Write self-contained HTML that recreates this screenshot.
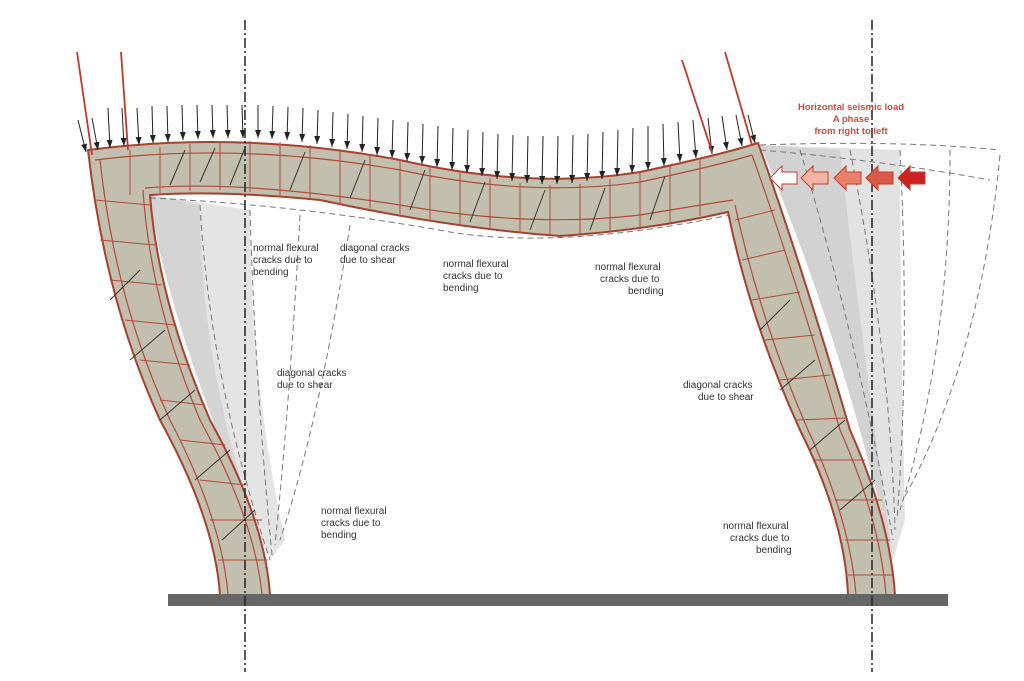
<!DOCTYPE html>
<html><head><meta charset="utf-8"><style>
html,body{margin:0;padding:0;background:#fff;width:1024px;height:681px;overflow:hidden}
svg{display:block}
text{font-family:"Liberation Sans",sans-serif;font-size:10px;fill:#333}
</style></head><body>
<svg width="1024" height="681" viewBox="0 0 1024 681" xmlns="http://www.w3.org/2000/svg">
<defs>
<marker id="ah" markerWidth="8" markerHeight="6" refX="8" refY="3" orient="auto" markerUnits="userSpaceOnUse">
<path d="M0,0 L8,3 L0,6 Z" fill="#222"/></marker>
</defs>
<!-- shaded regions -->
<path d="M150,195 Q165,320 270,560 L285,540 Q250,380 250,210 Z" fill="#e4e4e4"/>
<path d="M150,195 Q160,300 268,560 Q200,380 200,205 Z" fill="#d4d4d4"/>
<path d="M760,145 Q840,330 893,560 L905,520 Q900,300 900,150 Z" fill="#e2e2e2"/>
<path d="M760,145 Q840,330 893,560 Q860,330 840,150 Z" fill="#d2d2d2"/>
<!-- dashed ghost lines -->
<g fill="none" stroke="#777" stroke-width="1" stroke-dasharray="6,4">
<path d="M150,198 Q300,205 450,232 Q560,250 730,215"/>
<path d="M200,205 Q210,380 270,560"/>
<path d="M250,210 Q255,380 272,555"/>
<path d="M300,215 Q290,400 275,545"/>
<path d="M350,225 Q320,420 280,540"/>
<path d="M760,145 Q900,140 1000,150"/>
<path d="M760,150 Q880,160 990,180"/>
<path d="M800,150 Q860,350 893,540"/>
<path d="M850,150 Q890,350 895,530"/>
<path d="M900,150 Q910,350 897,520"/>
<path d="M950,150 Q950,350 900,510"/>
<path d="M1000,155 Q980,360 903,500"/>
</g>
<!-- frame -->
<path d="M88,150 Q240,130 400,160 Q530,190 640,172 Q720,155 758,143 Q800,260 850,430 Q890,520 895,595 L848,595 Q845,520 800,430 Q750,320 728,212 Q650,230 560,236 Q450,228 320,200 Q220,190 150,195 Q158,300 210,420 Q265,520 270,595 L220,595 Q215,520 160,420 Q105,300 88,150 Z" fill="#c2bfae" stroke="#a8402e" stroke-width="2"/>
<g stroke="#b24a38" stroke-width="1.2" fill="none">
<path d="M95,160 Q240,142 400,170 Q530,198 640,182 Q720,165 752,155"/>
<path d="M145,188 Q240,180 400,205 Q530,228 640,215 Q700,205 733,200"/>
<path d="M100,160 Q115,300 170,420 Q222,520 228,595"/>
<path d="M143,190 Q150,300 200,420 Q255,520 262,595"/>
<path d="M752,155 Q790,260 840,430 Q880,520 886,595"/>
<path d="M735,205 Q760,320 808,430 Q850,520 856,595"/>
</g>
<g stroke="#b24a38" stroke-width="1">
<line x1="130" y1="150" x2="130" y2="195"/><line x1="160" y1="147" x2="160" y2="193"/><line x1="190" y1="144" x2="190" y2="191"/><line x1="220" y1="142" x2="220" y2="190"/><line x1="250" y1="141" x2="250" y2="192"/><line x1="280" y1="142" x2="280" y2="195"/><line x1="310" y1="145" x2="310" y2="198"/><line x1="340" y1="149" x2="340" y2="203"/><line x1="370" y1="154" x2="370" y2="208"/><line x1="400" y1="160" x2="400" y2="214"/><line x1="430" y1="166" x2="430" y2="221"/><line x1="460" y1="172" x2="460" y2="226"/><line x1="490" y1="178" x2="490" y2="230"/><line x1="520" y1="183" x2="520" y2="233"/><line x1="550" y1="185" x2="550" y2="235"/><line x1="580" y1="184" x2="580" y2="235"/><line x1="610" y1="179" x2="610" y2="233"/><line x1="640" y1="172" x2="640" y2="229"/><line x1="670" y1="166" x2="670" y2="222"/><line x1="700" y1="159" x2="700" y2="216"/>
<line x1="95" y1="200" x2="150" y2="205"/><line x1="100" y1="240" x2="155" y2="245"/><line x1="110" y1="280" x2="162" y2="285"/><line x1="125" y1="320" x2="175" y2="325"/><line x1="140" y1="360" x2="190" y2="365"/><line x1="160" y1="400" x2="205" y2="405"/><line x1="180" y1="440" x2="225" y2="445"/><line x1="200" y1="480" x2="245" y2="485"/><line x1="210" y1="520" x2="262" y2="520"/><line x1="218" y1="560" x2="268" y2="560"/>
<line x1="735" y1="220" x2="775" y2="210"/><line x1="742" y1="260" x2="785" y2="250"/><line x1="752" y1="300" x2="800" y2="292"/><line x1="765" y1="340" x2="815" y2="335"/><line x1="780" y1="380" x2="830" y2="375"/><line x1="797" y1="420" x2="845" y2="418"/><line x1="815" y1="460" x2="865" y2="460"/><line x1="835" y1="500" x2="882" y2="500"/><line x1="845" y1="540" x2="890" y2="540"/><line x1="848" y1="575" x2="894" y2="575"/>
</g>
<!-- cracks -->
<g stroke="#333" stroke-width="1" fill="none">
<path d="M170,185 L185,150"/><path d="M200,182 L215,148"/><path d="M230,185 L245,148"/><path d="M290,190 L305,152"/><path d="M350,198 L365,160"/><path d="M410,210 L425,170"/><path d="M470,222 L485,182"/><path d="M530,230 L545,190"/><path d="M590,230 L605,188"/><path d="M650,220 L665,176"/>
<path d="M110,300 L140,270"/><path d="M130,360 L165,330"/><path d="M160,420 L195,390"/><path d="M195,480 L230,450"/><path d="M222,540 L255,510"/>
<path d="M760,330 L790,300"/><path d="M780,390 L815,360"/><path d="M810,450 L845,420"/><path d="M840,510 L875,480"/>
</g>
<!-- ground -->
<rect x="168" y="594" width="780" height="12" fill="#666"/>
<!-- axes -->
<g stroke="#222" stroke-width="1.5" stroke-dasharray="10,3,2,3">
<line x1="245" y1="20" x2="245" y2="672"/><line x1="872" y1="20" x2="872" y2="672"/></g>
<!-- load arrows -->
<g stroke="#222" stroke-width="1" marker-end="url(#ah)">
<line x1="78" y1="120" x2="86" y2="152"/><line x1="92" y1="118" x2="98" y2="150"/>
<line x1="108" y1="108" x2="110" y2="148"/><line x1="122" y1="108" x2="124" y2="146"/><line x1="137" y1="108" x2="139" y2="145"/><line x1="152" y1="106" x2="153" y2="143"/><line x1="167" y1="106" x2="168" y2="142"/><line x1="182" y1="105" x2="183" y2="140"/><line x1="197" y1="105" x2="198" y2="139"/><line x1="212" y1="105" x2="213" y2="138"/><line x1="227" y1="105" x2="228" y2="138"/><line x1="242" y1="105" x2="243" y2="138"/><line x1="258" y1="105" x2="258" y2="138"/><line x1="273" y1="106" x2="272" y2="139"/><line x1="288" y1="107" x2="287" y2="140"/><line x1="303" y1="108" x2="302" y2="142"/><line x1="318" y1="110" x2="317" y2="144"/><line x1="333" y1="112" x2="332" y2="147"/><line x1="348" y1="114" x2="347" y2="149"/><line x1="363" y1="116" x2="362" y2="152"/><line x1="378" y1="118" x2="377" y2="155"/><line x1="393" y1="120" x2="392" y2="158"/><line x1="408" y1="122" x2="407" y2="161"/><line x1="423" y1="124" x2="422" y2="164"/><line x1="438" y1="126" x2="437" y2="167"/><line x1="453" y1="128" x2="452" y2="170"/><line x1="468" y1="130" x2="467" y2="173"/><line x1="483" y1="132" x2="482" y2="176"/><line x1="498" y1="134" x2="497" y2="179"/><line x1="513" y1="135" x2="512" y2="181"/><line x1="528" y1="136" x2="527" y2="183"/><line x1="543" y1="136" x2="542" y2="184"/><line x1="558" y1="136" x2="557" y2="184"/><line x1="573" y1="135" x2="572" y2="183"/><line x1="588" y1="134" x2="587" y2="181"/><line x1="603" y1="132" x2="602" y2="179"/><line x1="618" y1="130" x2="617" y2="176"/><line x1="633" y1="128" x2="632" y2="173"/><line x1="648" y1="126" x2="648" y2="170"/><line x1="663" y1="124" x2="664" y2="166"/><line x1="678" y1="122" x2="680" y2="162"/><line x1="693" y1="120" x2="696" y2="158"/><line x1="708" y1="118" x2="712" y2="154"/><line x1="722" y1="116" x2="727" y2="150"/><line x1="736" y1="115" x2="742" y2="146"/><line x1="748" y1="115" x2="755" y2="143"/>
</g>
<!-- red lines -->
<g stroke="#c0392b" stroke-width="1.8">
<line x1="77" y1="52" x2="92" y2="155"/><line x1="121" y1="52" x2="128" y2="150"/>
<line x1="682" y1="60" x2="712" y2="152"/><line x1="725" y1="52" x2="752" y2="145"/></g>
<!-- seismic arrows -->
<g stroke="#c04030" stroke-width="1">
<path d="M770,178 L782,166 L782,172 L797,172 L797,184 L782,184 L782,190 Z" fill="#fff"/>
<path d="M801,178 L813,166 L813,172 L828,172 L828,184 L813,184 L813,190 Z" fill="#f2b4a4"/>
<path d="M834,178 L846,166 L846,172 L861,172 L861,184 L846,184 L846,190 Z" fill="#e8806a"/>
<path d="M866,178 L878,166 L878,172 L893,172 L893,184 L878,184 L878,190 Z" fill="#d85a44"/>
<path d="M898,178 L910,166 L910,172 L925,172 L925,184 L910,184 L910,190 Z" fill="#cc2222"/>
</g>
<g font-weight="bold" text-anchor="middle">
<text x="851" y="110" style="fill:#d04a3a;font-size:9.5px">Horizontal seismic load</text>
<text x="851" y="122" style="fill:#d04a3a;font-size:9.5px">A phase</text>
<text x="851" y="134" style="fill:#d04a3a;font-size:9.5px">from right to left</text>
</g>
<!-- labels -->
<text x="253" y="251">normal flexural</text><text x="253" y="263">cracks due to</text><text x="253" y="275">bending</text>
<text x="340" y="251">diagonal cracks</text><text x="340" y="263">due to shear</text>
<text x="443" y="267">normal flexural</text><text x="443" y="279">cracks due to</text><text x="443" y="291">bending</text>
<text x="595" y="270">normal flexural</text><text x="600" y="282">cracks due to</text><text x="628" y="294">bending</text>
<text x="277" y="376">diagonal cracks</text><text x="277" y="388">due to shear</text>
<text x="683" y="388">diagonal cracks</text><text x="698" y="400">due to shear</text>
<text x="321" y="514">normal flexural</text><text x="321" y="526">cracks due to</text><text x="321" y="538">bending</text>
<text x="723" y="529">normal flexural</text><text x="730" y="541">cracks due to</text><text x="756" y="553">bending</text>
</svg>
</body></html>
